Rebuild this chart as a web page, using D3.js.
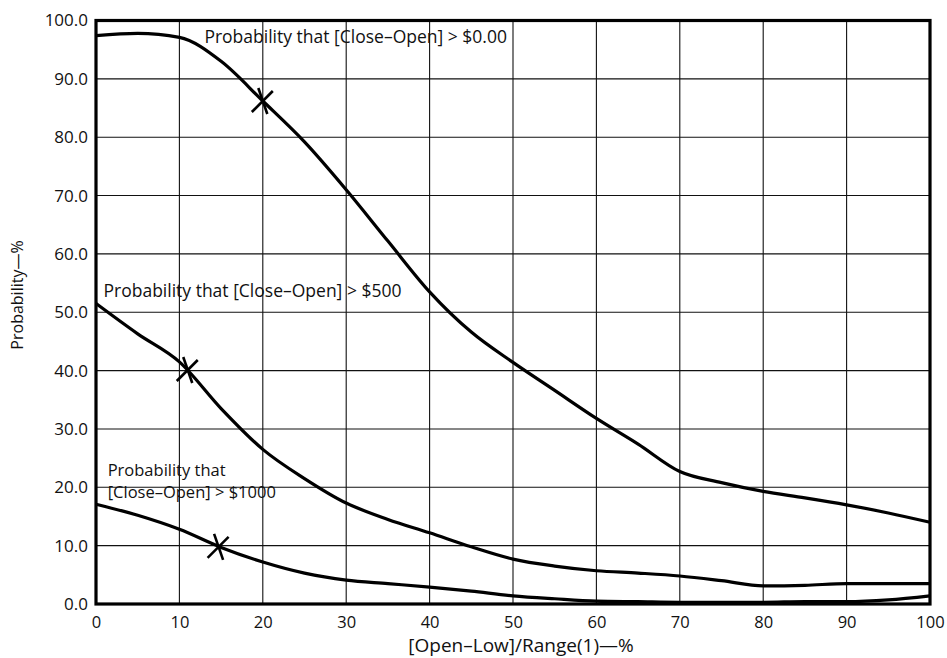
<!DOCTYPE html>
<html>
<head>
<meta charset="utf-8">
<script src="https://cdn.jsdelivr.net/npm/d3@7"></script>
<style>
  body { margin: 0; background: #fff; }
  svg text { font-family: "Open Sans", sans-serif; fill: #111; }
</style>
</head>
<body>
<div id="chart"></div>
<script>
// x positions, [Open-Low]/Range in %
var xVals = [0, 5, 10, 15, 20, 25, 30, 35, 40, 45, 50, 55, 60, 65, 70, 75, 80, 85, 90, 95, 100];
// Probability that [Close-Open] > $0.00
var probOver0 = [97.4, 97.8, 97.1, 93.0, 86.2, 79.2, 71.0, 62.2, 53.5, 46.6, 41.4, 36.6, 31.8, 27.4, 22.7, 20.8, 19.3, 18.2, 17.0, 15.6, 14.0];
// Probability that [Close-Open] > $500
var probOver500 = [51.5, 46.3, 41.5, 33.5, 26.5, 21.5, 17.3, 14.5, 12.2, 9.8, 7.7, 6.5, 5.7, 5.3, 4.8, 4.0, 3.1, 3.2, 3.5, 3.5, 3.5];
// Probability that [Close-Open] > $1000
var probOver1000 = [17.1, 15.2, 12.8, 9.7, 7.2, 5.3, 4.1, 3.5, 2.9, 2.2, 1.4, 0.9, 0.5, 0.4, 0.3, 0.3, 0.3, 0.4, 0.4, 0.7, 1.4];

// star markers [x, y]
var markers = [[20, 86.2], [11, 40.1], [14.7, 9.8]];

var xTicks = [0, 10, 20, 30, 40, 50, 60, 70, 80, 90, 100];
var yTicks = [0, 10, 20, 30, 40, 50, 60, 70, 80, 90, 100];

var labels = [
  {x: 13, y: 96.2, text: "Probability that [Close\u2013Open] > $0.00"},
  {x: 0.9, y: 52.6, text: "Probability that [Close\u2013Open] > $500"},
  {x: 1.4, y: 22.0, text: "Probability that"},
  {x: 1.4, y: 18.1, text: "[Close\u2013Open] > $1000"}
];

var W = 947, H = 658;
var margin = {top: 20.5, right: 17, bottom: 54, left: 96};

var svg = d3.select("#chart").append("svg")
  .attr("width", W)
  .attr("height", H);

var x = d3.scaleLinear().domain([0, 100]).range([margin.left, W - margin.right]);
var y = d3.scaleLinear().domain([0, 100]).range([H - margin.bottom, margin.top]);

// grid
svg.append("g").selectAll("line.vg")
  .data(xTicks)
  .enter().append("line")
  .attr("x1", function(d) { return x(d); })
  .attr("x2", function(d) { return x(d); })
  .attr("y1", y(0))
  .attr("y2", y(100))
  .attr("stroke", "#111")
  .attr("stroke-width", 1.1);
svg.append("g").selectAll("line.hg")
  .data(yTicks)
  .enter().append("line")
  .attr("x1", x(0))
  .attr("x2", x(100))
  .attr("y1", function(d) { return y(d); })
  .attr("y2", function(d) { return y(d); })
  .attr("stroke", "#111")
  .attr("stroke-width", 1.1);

// axes (labels only, ticks via d3)
var xAxis = svg.append("g")
  .attr("transform", "translate(0," + y(0) + ")")
  .call(d3.axisBottom(x).tickValues(xTicks).tickSize(0).tickPadding(12).tickFormat(d3.format("d")));
var yAxis = svg.append("g")
  .attr("transform", "translate(" + x(0) + ",0)")
  .call(d3.axisLeft(y).tickValues(yTicks).tickSize(0).tickPadding(8).tickFormat(d3.format(".1f")));
xAxis.selectAll("text").attr("font-size", 16.5);
yAxis.selectAll("text").attr("font-size", 17);
[xAxis, yAxis].forEach(function(a) {
  a.select(".domain").remove();
  a.selectAll("text").attr("font-family", "Open Sans, sans-serif").attr("fill", "#111");
});

// frame
svg.append("rect")
  .attr("x", x(0))
  .attr("y", y(100))
  .attr("width", x(100) - x(0))
  .attr("height", y(0) - y(100))
  .attr("fill", "none")
  .attr("stroke", "#000")
  .attr("stroke-width", 3.2);

// curves
var line = d3.line()
  .x(function(d) { return x(d[0]); })
  .y(function(d) { return y(d[1]); })
  .curve(d3.curveMonotoneX);

[probOver0, probOver500, probOver1000].forEach(function(series) {
  svg.append("path")
    .datum(xVals.map(function(v, i) { return [v, series[i]]; }))
    .attr("d", line)
    .attr("fill", "none")
    .attr("stroke", "#000")
    .attr("stroke-width", 3.2)
    .attr("stroke-linejoin", "round");
});

// star markers: a steep stroke and a diagonal stroke
var mk = svg.append("g").selectAll("g")
  .data(markers)
  .enter().append("g")
  .attr("transform", function(d) { return "translate(" + x(d[0]) + "," + y(d[1]) + ")"; });
mk.append("line")
  .attr("x1", -4.5).attr("y1", -13).attr("x2", 4.5).attr("y2", 13)
  .attr("stroke", "#000").attr("stroke-width", 2.6);
mk.append("line")
  .attr("x1", -11).attr("y1", 11).attr("x2", 10).attr("y2", -10)
  .attr("stroke", "#000").attr("stroke-width", 2.6);

// curve labels
svg.append("g").selectAll("text")
  .data(labels)
  .enter().append("text")
  .attr("x", function(d) { return x(d.x); })
  .attr("y", function(d) { return y(d.y); })
  .attr("font-size", 16.5)
  .text(function(d) { return d.text; });
svg.selectAll("g text").filter(function(d) { return d && d.text && d.y > 50; })
  .attr("font-size", 17.5);

// axis titles
svg.append("text")
  .attr("x", 521)
  .attr("y", 652)
  .attr("text-anchor", "middle")
  .attr("font-size", 19)
  .text("[Open\u2013Low]/Range(1)\u2014%");
svg.append("text")
  .attr("transform", "translate(23," + 295 + ")rotate(-90)")
  .attr("text-anchor", "middle")
  .attr("font-size", 16)
  .text("Probability\u2014%");
</script>
</body>
</html>
